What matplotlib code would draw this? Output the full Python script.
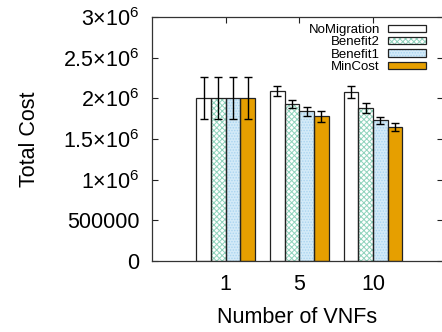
import matplotlib
matplotlib.use('Agg')
import matplotlib.pyplot as plt
import numpy as np
from matplotlib.ticker import FuncFormatter
from matplotlib.legend_handler import HandlerTuple

plt.rcParams['font.family'] = ['Liberation Sans', 'DejaVu Sans']
plt.rcParams['mathtext.fontset'] = 'custom'
plt.rcParams['mathtext.rm'] = 'Liberation Sans'
plt.rcParams['mathtext.it'] = 'Liberation Sans:italic'
plt.rcParams['mathtext.bf'] = 'Liberation Sans:bold'
plt.rcParams['hatch.linewidth'] = 0.7

# data
groups = ['1', '5', '10']
series = ['NoMigration', 'Benefit2', 'Benefit1', 'MinCost']
no_migration = [2.00e6, 2.09e6, 2.08e6]
benefit2 = [2.00e6, 1.93e6, 1.88e6]
benefit1 = [2.00e6, 1.84e6, 1.73e6]
min_cost = [2.00e6, 1.78e6, 1.65e6]
err_no_migration = [0.26e6, 0.06e6, 0.075e6]
err_benefit2 = [0.26e6, 0.05e6, 0.058e6]
err_benefit1 = [0.26e6, 0.055e6, 0.045e6]
err_min_cost = [0.26e6, 0.065e6, 0.05e6]
yticks = [0, 500000, 1e6, 1.5e6, 2e6, 2.5e6, 3e6]

values = [no_migration, benefit2, benefit1, min_cost]
errors = [err_no_migration, err_benefit2, err_benefit1, err_min_cost]

# style per series: (facecolor, hatch, hatch colour)
styles = [
    ('white', None, None),
    ('white', 'xxxxxx', '#8fd3bc'),
    ('#d3eaf8', '......', '#a9d4f0'),
    ('#e69f00', None, None),
]

fig = plt.figure(figsize=(4.42, 3.32), dpi=100)
ax = fig.add_axes([152 / 442, 1 - 261 / 332, (443 - 152) / 442, (261 - 17) / 332])

x = np.arange(len(groups))
width = 0.2
offsets = [-0.3, -0.1, 0.1, 0.3]
handles = []
for vals, errs, off, (fc, hatch, hc) in zip(values, errors, offsets, styles):
    pos = x + off
    parts = []
    if hatch:
        bg = ax.bar(pos, vals, width, color=fc, edgecolor='none', linewidth=0, zorder=2)
        hb = ax.bar(pos, vals, width, facecolor='none', edgecolor=hc, hatch=hatch,
                    linewidth=0, zorder=2.1)
        parts += [bg, hb]
    else:
        fb = ax.bar(pos, vals, width, color=fc, linewidth=0, zorder=2)
        parts.append(fb)
    ob = ax.bar(pos, vals, width, facecolor='none', edgecolor='#222222',
                linewidth=0.9, zorder=2.2)
    parts.append(ob)
    handles.append(tuple(parts))
    ax.errorbar(pos, vals, yerr=errs, fmt='none', ecolor='black', elinewidth=1,
                capsize=3, capthick=1, zorder=3)

ax.set_xlim(-1, 2.95)
ax.set_ylim(0, 3e6)
ax.set_xticks(x)
ax.set_xticklabels(groups)
ax.set_yticks(yticks)


def fmt(v, pos):
    if v == 0:
        return '0'
    if v == 500000:
        return '500000'
    ms = f'{v / 1e6:g}'
    return r'$' + ms + r'{\times}10^{6}$'


ax.yaxis.set_major_formatter(FuncFormatter(fmt))
ax.tick_params(direction='in', length=4.5, width=0.8, top=True, right=True,
               labelsize=15.5, colors='#222222', labelcolor='black')
ax.tick_params(axis='x', pad=9)
ax.tick_params(axis='y', pad=9)
for s in ax.spines.values():
    s.set_linewidth(0.9)
    s.set_color('#333333')

ax.set_ylabel('Total Cost', fontsize=15.5, labelpad=17)
ax.set_xlabel('Number of VNFs', fontsize=15.5, labelpad=9)

ax.legend(handles, series, handler_map={tuple: HandlerTuple(ndivide=1, pad=0)},
          loc='upper right', bbox_to_anchor=(426 / 442, 1 - 24 / 332),
          bbox_transform=fig.transFigure, frameon=False, markerfirst=False,
          fontsize=9.5, handlelength=2.9, handleheight=0.47, labelspacing=0.03,
          handletextpad=0.6, borderpad=0, borderaxespad=0)

fig.savefig('out.png', dpi=100)
